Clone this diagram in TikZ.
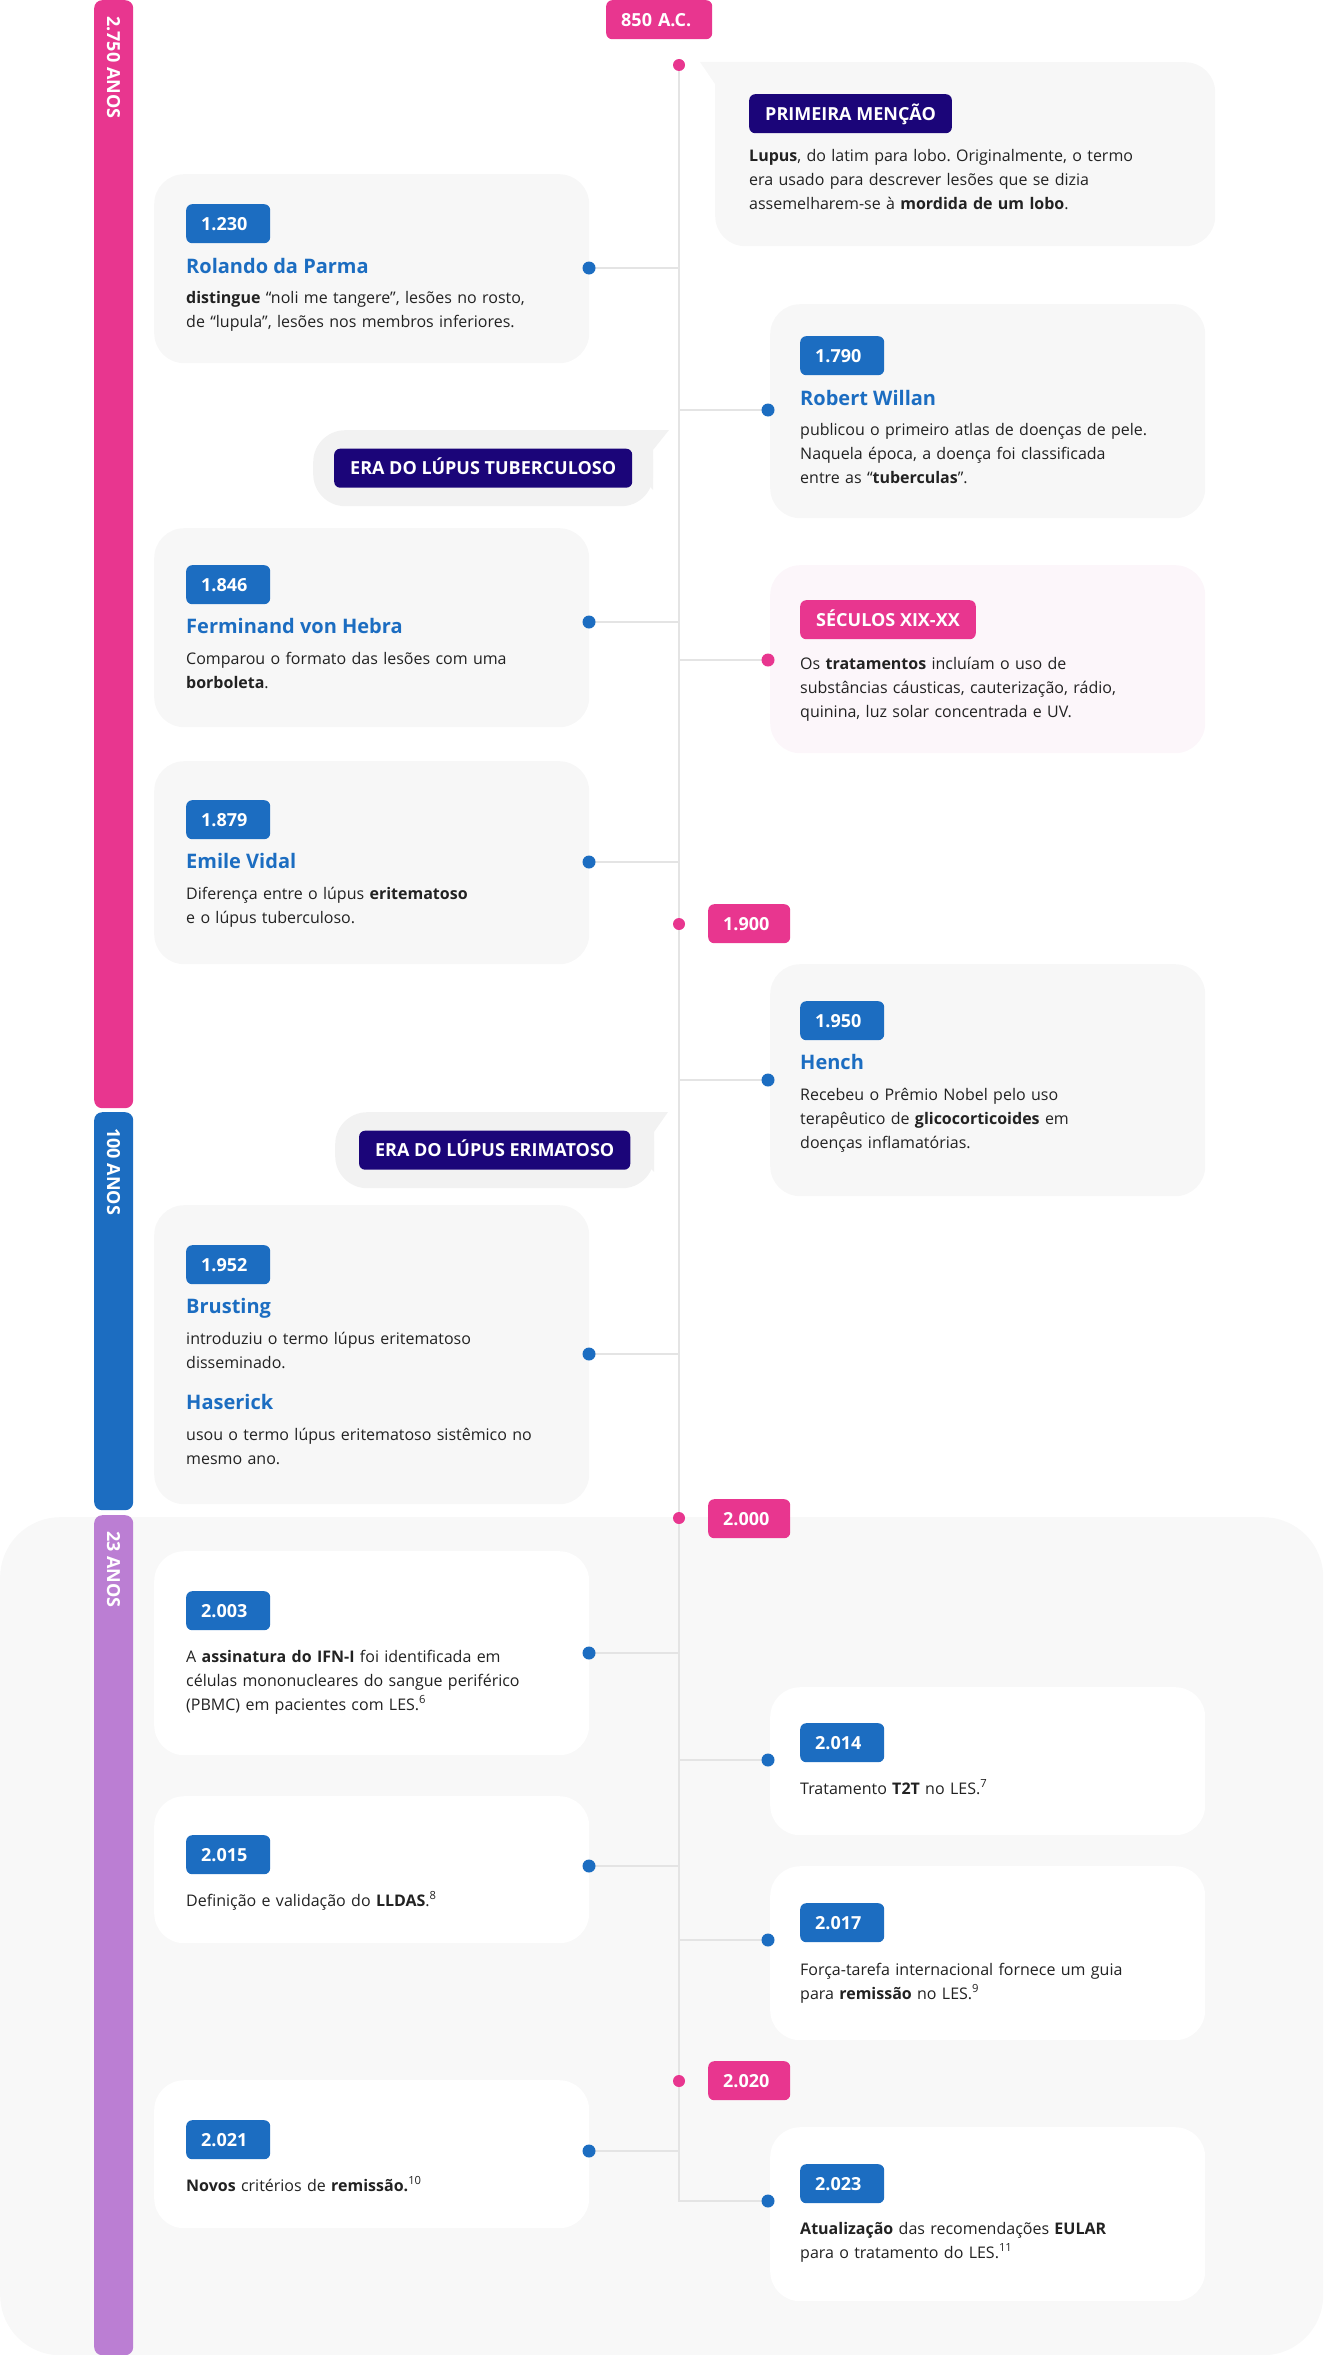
\documentclass[tikz,border=0pt]{standalone}
\usepackage{fontspec}
\setmainfont{Open Sans}
\definecolor{pinkc}{HTML}{E8368F}
\definecolor{bluec}{HTML}{1C6DC1}
\definecolor{navyc}{HTML}{1B0579}
\definecolor{purplec}{HTML}{BB7ED3}
\definecolor{cardc}{HTML}{F7F7F7}
\definecolor{secc}{HTML}{F8F8F8}
\definecolor{erac}{HTML}{F2F2F2}
\definecolor{pinkcard}{HTML}{FCF6FA}
\definecolor{linec}{HTML}{E4E4E4}
\definecolor{textc}{HTML}{222222}
\pgfdeclarelayer{back}
\pgfdeclarelayer{lines}
\pgfsetlayers{back,lines,main}
\frenchspacing
\begin{document}
\begin{tikzpicture}[x=1pt,y=-1pt,
  card/.style={fill=cardc, rounded corners=30pt, inner sep=0pt, anchor=north west, minimum width=435pt},
  wcard/.style={card, fill=white},
  erabox/.style={fill=erac, rounded corners=32pt, minimum height=76pt, inner sep=0pt, anchor=north west},
  tagbase/.style={rounded corners=6pt, text=white, font=\fontsize{18}{20}\selectfont\bfseries, inner ysep=0pt, minimum height=39pt, text height=13pt, text depth=0pt, anchor=north west},
  datetag/.style={tagbase, fill=bluec, inner xsep=15pt, text width=54pt, align=left},
  pinktag/.style={tagbase, fill=pinkc, inner xsep=15pt, text width=52pt, align=left},
  navytag/.style={tagbase, fill=navyc, inner xsep=16pt},
  title/.style={font=\fontsize{20}{24}\selectfont\bfseries, text=bluec, inner sep=0pt, anchor=base west},
  body/.style={font=\fontsize{16}{24}\selectfont\frenchspacing, text=textc, inner sep=0pt, anchor=base west, text width=430pt, align=left},
  bdot/.style={circle, fill=bluec, minimum size=13pt, inner sep=0pt},
  pdot/.style={circle, fill=pinkc, minimum size=12pt, inner sep=0pt},
  conn/.style={draw=linec, line width=2pt},
  bar/.style={rounded corners=8pt, minimum width=39pt, inner sep=0pt, anchor=north west},
  bartext/.style={rotate=-90, anchor=west, text=white, font=\fontsize{18}{20}\selectfont\bfseries, inner sep=0pt, text height=13pt, text depth=0pt}
]
\useasboundingbox (0,0) rectangle (1323,2355);

% section background
\begin{pgfonlayer}{back}
\node[fill=secc, rounded corners=60pt, minimum width=1323pt, minimum height=838pt, anchor=north west, inner sep=0pt] (sec) at (0,1517) {};
\end{pgfonlayer}

% left bars
\node[bar, fill=pinkc, minimum height=1108pt] (bar1) at (94,0) {};
\node[bartext] (bar1t) at (113.5,16) {2.750 ANOS};
\node[bar, fill=bluec, minimum height=398pt] (bar2) at (94,1112) {};
\node[bartext] (bar2t) at (113.5,1128) {100 ANOS};
\node[bar, fill=purplec, minimum height=840pt] (bar3) at (94,1515) {};
\node[bartext] (bar3t) at (113.5,1531) {23 ANOS};

% 850 A.C.
\node[pinktag, text width=76pt] (t850) at (606,0) {850 A.C.};
\node[pdot] (p850) at (679,65) {};

% Primeira mencao
\node[card, minimum width=500pt, minimum height=184pt] (cprim) at (715,62) {};
\fill[cardc] (700,62) -- (770,62) -- (715,110) -- (715,84) -- cycle;
\node[navytag] (tprim) at (749,94) {PRIMEIRA MENÇÃO};
\node[body] (bprim) at (749,161) {\textbf{Lupus}, do latim para lobo. Originalmente, o termo\\era usado para descrever lesões que se dizia\\assemelharem-se à \textbf{mordida de um lobo}.};

% 1.230
\node[card, minimum height=189pt] (c1230) at (154,174) {};
\node[datetag] (t1230) at (186,204) {1.230};
\node[title] (h1230) at (186,273) {Rolando da Parma};
\node[body] (b1230) at (186,303) {\textbf{distingue} “noli me tangere”, lesões no rosto,\\de “lupula”, lesões nos membros inferiores.};
\node[bdot] (d1230) at (589,268) {};

% 1.790
\node[card, minimum height=214pt] (c1790) at (770,304) {};
\node[datetag] (t1790) at (800,336) {1.790};
\node[title] (h1790) at (800,405) {Robert Willan};
\node[body] (b1790) at (800,435) {publicou o primeiro atlas de doenças de pele.\\Naquela época, a doença foi classificada\\entre as “\textbf{tuberculas}”.};
\node[bdot] (d1790) at (768,410) {};

% Era 1
\node[erabox, minimum width=340pt] (era1) at (313,430) {};
\fill[erac] (669,430) -- (600,430) -- (653,490) -- (653,450) -- cycle;
\node[navytag, anchor=center] (tera1) at (era1.center) {ERA DO LÚPUS TUBERCULOSO};

% 1.846
\node[card, minimum height=199pt] (c1846) at (154,528) {};
\node[datetag] (t1846) at (186,565) {1.846};
\node[title] (h1846) at (186,633) {Ferminand von Hebra};
\node[body] (b1846) at (186,664) {Comparou o formato das lesões com uma\\\textbf{borboleta}.};
\node[bdot] (d1846) at (589,622) {};

% Seculos XIX-XX
\node[card, fill=pinkcard, minimum height=188pt] (cxix) at (770,565) {};
\node[navytag, fill=pinkc] (txix) at (800,600) {SÉCULOS XIX-XX};
\node[body] (bxix) at (800,669) {Os \textbf{tratamentos} incluíam o uso de\\substâncias cáusticas, cauterização, rádio,\\quinina, luz solar concentrada e UV.};
\node[pdot, minimum size=13pt] (dxix) at (768,660) {};

% 1.879
\node[card, minimum height=203pt] (c1879) at (154,761) {};
\node[datetag] (t1879) at (186,800) {1.879};
\node[title] (h1879) at (186,868) {Emile Vidal};
\node[body] (b1879) at (186,899) {Diferença entre o lúpus \textbf{eritematoso}\\e o lúpus tuberculoso.};
\node[bdot] (d1879) at (589,862) {};

% 1.900
\node[pinktag] (t1900) at (708,904) {1.900};
\node[pdot] (p1900) at (679,924) {};

% 1.950
\node[card, minimum height=232pt] (c1950) at (770,964) {};
\node[datetag] (t1950) at (800,1001) {1.950};
\node[title] (h1950) at (800,1069) {Hench};
\node[body] (b1950) at (800,1100) {Recebeu o Prêmio Nobel pelo uso\\terapêutico de \textbf{glicocorticoides} em\\doenças inflamatórias.};
\node[bdot] (d1950) at (768,1080) {};

% Era 2
\node[erabox, minimum width=319pt] (era2) at (335,1112) {};
\fill[erac] (668,1112) -- (600,1112) -- (654,1172) -- (654,1132) -- cycle;
\node[navytag, anchor=center] (tera2) at (era2.center) {ERA DO LÚPUS ERIMATOSO};

% 1.952
\node[card, minimum height=299pt] (c1952) at (154,1205) {};
\node[datetag] (t1952) at (186,1245) {1.952};
\node[title] (h1952) at (186,1313) {Brusting};
\node[body] (b1952) at (186,1344) {introduziu o termo lúpus eritematoso\\disseminado.};
\node[title] (h1952b) at (186,1409) {Haserick};
\node[body] (b1952b) at (186,1440) {usou o termo lúpus eritematoso sistêmico no\\mesmo ano.};
\node[bdot] (d1952) at (589,1354) {};

% 2.000
\node[pinktag] (t2000) at (708,1499) {2.000};
\node[pdot] (p2000) at (679,1518) {};

% 2.003
\node[wcard, minimum height=204pt] (c2003) at (154,1551) {};
\node[datetag] (t2003) at (186,1591) {2.003};
\node[body] (b2003) at (186,1662) {A \textbf{assinatura do IFN-I} foi identificada em\\células mononucleares do sangue periférico\\(PBMC) em pacientes com LES.\textsuperscript{6}};
\node[bdot] (d2003) at (589,1653) {};

% 2.014
\node[wcard, minimum height=148pt] (c2014) at (770,1687) {};
\node[datetag] (t2014) at (800,1723) {2.014};
\node[body] (b2014) at (800,1794) {Tratamento \textbf{T2T} no LES.\textsuperscript{7}};
\node[bdot] (d2014) at (768,1760) {};

% 2.015
\node[wcard, minimum height=147pt] (c2015) at (154,1796) {};
\node[datetag] (t2015) at (186,1835) {2.015};
\node[body] (b2015) at (186,1906) {Definição e validação do \textbf{LLDAS}.\textsuperscript{8}};
\node[bdot] (d2015) at (589,1866) {};

% 2.017
\node[wcard, minimum height=174pt] (c2017) at (770,1866) {};
\node[datetag] (t2017) at (800,1903) {2.017};
\node[body] (b2017) at (800,1975) {Força-tarefa internacional fornece um guia\\para \textbf{remissão} no LES.\textsuperscript{9}};
\node[bdot] (d2017) at (768,1940) {};

% 2.020
\node[pinktag] (t2020) at (708,2061) {2.020};
\node[pdot] (p2020) at (679,2081) {};

% 2.021
\node[wcard, minimum height=148pt] (c2021) at (154,2080) {};
\node[datetag] (t2021) at (186,2120) {2.021};
\node[body] (b2021) at (186,2191) {\textbf{Novos} critérios de \textbf{remissão.}\textsuperscript{10}};
\node[bdot] (d2021) at (589,2151) {};

% 2.023
\node[wcard, minimum height=174pt] (c2023) at (770,2127) {};
\node[datetag] (t2023) at (800,2164) {2.023};
\node[body] (b2023) at (800,2234) {\textbf{Atualização} das recomendações \textbf{EULAR}\\para o tratamento do LES.\textsuperscript{11}};
\node[bdot] (d2023) at (768,2201) {};

% timeline and connectors
\begin{pgfonlayer}{lines}
\draw[conn] (p850.center) -- (p850 |- d2023) -- (d2023.center);
\foreach \d in {d1230,d1846,d1879,d1952,d2003,d2015,d2021,d1790,dxix,d1950,d2014,d2017}
  \draw[conn] (\d.center) -- (\d -| p850);
\end{pgfonlayer}
\end{tikzpicture}
\end{document}
